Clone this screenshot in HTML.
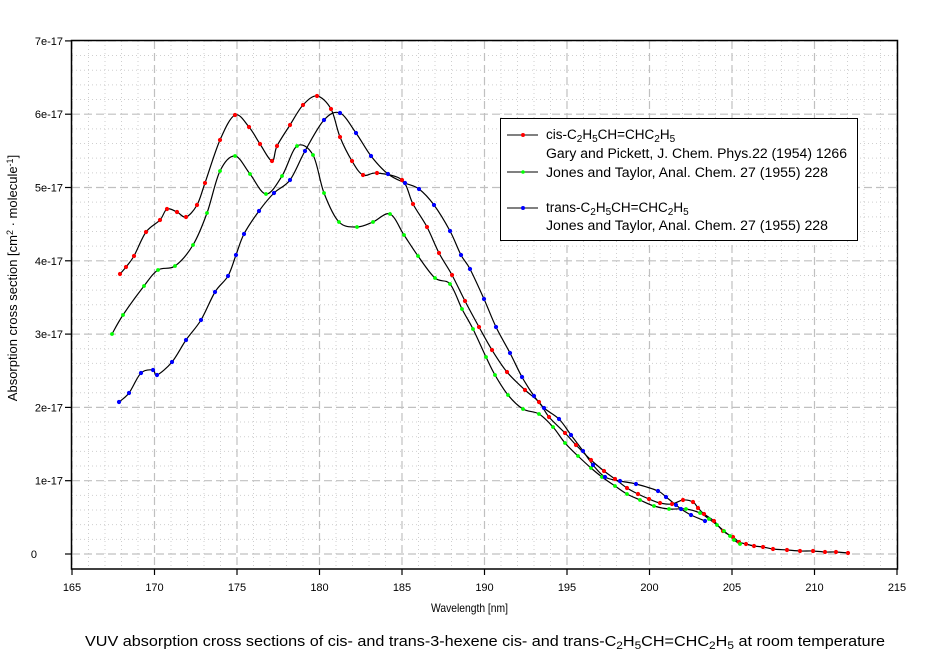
<!DOCTYPE html>
<html><head><meta charset="utf-8"><style>
body{margin:0;background:#fff;}
svg{display:block;font-family:"Liberation Sans",Arial,sans-serif;}
</style></head><body>
<svg id="S" width="937" height="659" viewBox="0 0 937 659" xmlns="http://www.w3.org/2000/svg">
<rect width="937" height="659" fill="#fff"/>
<g id="grid"></g>
<rect x="71.5" y="40.5" width="826" height="528.5" fill="none" stroke="#000" stroke-width="1.5"/>
<g id="ticks" stroke="#000" stroke-width="1.2"></g>
<g id="labels" font-size="11" fill="#000"></g>
<g id="curves" fill="none" stroke="#000" stroke-width="1.2"></g>
<g id="marks"></g>
<rect x="500.5" y="118.5" width="357" height="122" fill="#fff" stroke="#000" stroke-width="1"/>
<g stroke="#000" stroke-width="1">
<line x1="507" y1="135" x2="538" y2="135"/><line x1="507" y1="172" x2="538" y2="172"/><line x1="507" y1="208" x2="538" y2="208"/>
</g>
<circle cx="523" cy="135" r="2" fill="#f00"/><circle cx="523" cy="172" r="1.8" fill="#0f0"/><circle cx="523" cy="208" r="2" fill="#00f"/>
<g font-size="13.5" fill="#000">
<text x="546" y="139">cis-C<tspan font-size="10" dy="3">2</tspan><tspan dy="-3">H</tspan><tspan font-size="10" dy="3">5</tspan><tspan dy="-3">CH=CHC</tspan><tspan font-size="10" dy="3">2</tspan><tspan dy="-3">H</tspan><tspan font-size="10" dy="3">5</tspan></text>
<text x="546" y="158" textLength="301" lengthAdjust="spacingAndGlyphs">Gary and Pickett, J. Chem. Phys.22 (1954) 1266</text>
<text x="546" y="177" textLength="282" lengthAdjust="spacingAndGlyphs">Jones and Taylor, Anal. Chem. 27 (1955) 228</text>
<text x="546" y="212">trans-C<tspan font-size="10" dy="3">2</tspan><tspan dy="-3">H</tspan><tspan font-size="10" dy="3">5</tspan><tspan dy="-3">CH=CHC</tspan><tspan font-size="10" dy="3">2</tspan><tspan dy="-3">H</tspan><tspan font-size="10" dy="3">5</tspan></text>
<text x="546" y="230" textLength="282" lengthAdjust="spacingAndGlyphs">Jones and Taylor, Anal. Chem. 27 (1955) 228</text>
</g>
<text x="431" y="612" font-size="12" textLength="77" lengthAdjust="spacingAndGlyphs">Wavelength [nm]</text>
<text transform="translate(17,278) rotate(-90)" font-size="13" text-anchor="middle">Absorption cross section [cm<tspan font-size="9" dy="-4">2</tspan><tspan dy="4"> · molecule</tspan><tspan font-size="9" dy="-4">-1</tspan><tspan dy="4">]</tspan></text>
<text x="85" y="646" font-size="15" textLength="800" lengthAdjust="spacingAndGlyphs">VUV absorption cross sections of cis- and trans-3-hexene cis- and trans-C<tspan font-size="11" dy="3">2</tspan><tspan dy="-3">H</tspan><tspan font-size="11" dy="3">5</tspan><tspan dy="-3">CH=CHC</tspan><tspan font-size="11" dy="3">2</tspan><tspan dy="-3">H</tspan><tspan font-size="11" dy="3">5</tspan><tspan dy="-3"> at room temperature</tspan></text>
</svg>
<script>
var NS="http://www.w3.org/2000/svg";
function el(p,t,a,txt){var e=document.createElementNS(NS,t);for(var k in a)e.setAttribute(k,a[k]);if(txt!=null)e.textContent=txt;p.appendChild(e);return e;}
var g=document.getElementById("grid"),tk=document.getElementById("ticks"),lb=document.getElementById("labels");
var X0=72,DX=16.5,Y0=554,DY=73.3;
for(var i=0;i<=50;i++){var x=X0+i*DX;if(i%5==0)continue;el(g,"line",{x1:x,y1:41,x2:x,y2:568,stroke:"#cfcfcf","stroke-dasharray":"1,3","stroke-width":1});}
for(var j=-1;j<=35;j++){var y=Y0-j*DY/5;if(y<41||y>568)continue;if(j%5==0)continue;el(g,"line",{x1:72,y1:y,x2:897,y2:y,stroke:"#cfcfcf","stroke-dasharray":"1,3","stroke-width":1});}
for(var i=0;i<=10;i++){var x=X0+i*5*DX;el(g,"line",{x1:x,y1:41,x2:x,y2:568,stroke:"#c0c0c0","stroke-dasharray":"8,4","stroke-width":1.2});el(tk,"line",{x1:x,y1:569,x2:x,y2:575});el(lb,"text",{x:x,y:591,"text-anchor":"middle"},String(165+5*i));}
for(var j=0;j<=7;j++){var y=Y0-j*DY;el(g,"line",{x1:72,y1:y,x2:897,y2:y,stroke:"#c0c0c0","stroke-dasharray":"8,4","stroke-width":1.2});el(tk,"line",{x1:65,y1:y,x2:71,y2:y});el(lb,"text",{x:j==0?37:63,y:y+4,"text-anchor":"end"},j==0?"0":j+"e-17");}
var data={
"#f00":"120,274 126,267 134,256 146,232 160,220 167,209 177,212 186,217 197,205 205,183 220,140 235,115 249,127 260,144 272,161 277,146 290,125 303,105 317,96 331,109 340,137 352,161 363,175 377,173 402,180 413,204 427,227 439,253 452,275 465,301 479,327 492,350 507,372 525,390 539,402 549,417 565,433 576,445 591,460 604,471 615,479 627,488 638,494 649,499 660,503 672,504 683,500 693,502 698,508 704,514 714,521 723,531 733,537 739,542 746,544 754,546 763,547 773,549 787,550 800,551 813,551 825,552 836,552 848,553",
"#0f0":"112,334 123,315 144,286 158,270 175,266 193,245 207,213 220,171 235,156 250,174 266,194 282,176 297,146 313,155 324,193 339,222 357,227 373,222 390,214 404,235 418,256 435,278 450,284 462,309 473,329 486,357 495,375 508,395 523,409 539,414 553,427 565,443 578,456 591,468 602,477 615,486 627,494 640,500 654,506 669,509 686,509 700,513 709,519 717,525 724,531 730,536 734,540 740,544",
"#00f":"119,402 129,393 141,373 153,370 157,375 172,362 186,340 201,320 215,292 228,276 236,255 244,234 259,211 274,193 290,180 305,151 324,120 340,113 356,133 371,156 388,174 405,183 419,189 434,205 450,231 461,255 470,269 484,299 496,327 510,353 522,377 534,396 544,408 559,419 571,435 583,451 593,465 605,477 620,481 636,484 658,491 666,497 676,505 681,509 691,515 705,521"};
var cv=document.getElementById("curves"),m=document.getElementById("marks");
for(var col in data){
 var P=data[col].trim().split(/\s+/).map(function(p){return p.split(",").map(Number);});
 var d="M"+P[0][0]+","+P[0][1];
 for(var i=0;i < P.length-1;i++){var p0=P[i-1]||P[i],p1=P[i],p2=P[i+1],p3=P[i+2]||p2;
  var c1=[p1[0]+(p2[0]-p0[0])/6,p1[1]+(p2[1]-p0[1])/6],c2=[p2[0]-(p3[0]-p1[0])/6,p2[1]-(p3[1]-p1[1])/6];
  d+=" C"+c1.join(",")+" "+c2.join(",")+" "+p2.join(",");}
 el(cv,"path",{d:d});
 P.forEach(function(p){el(m,"circle",{cx:p[0],cy:p[1],r:col=="#0f0"?1.9:2.1,fill:col});});
}
</script>
</body></html>
